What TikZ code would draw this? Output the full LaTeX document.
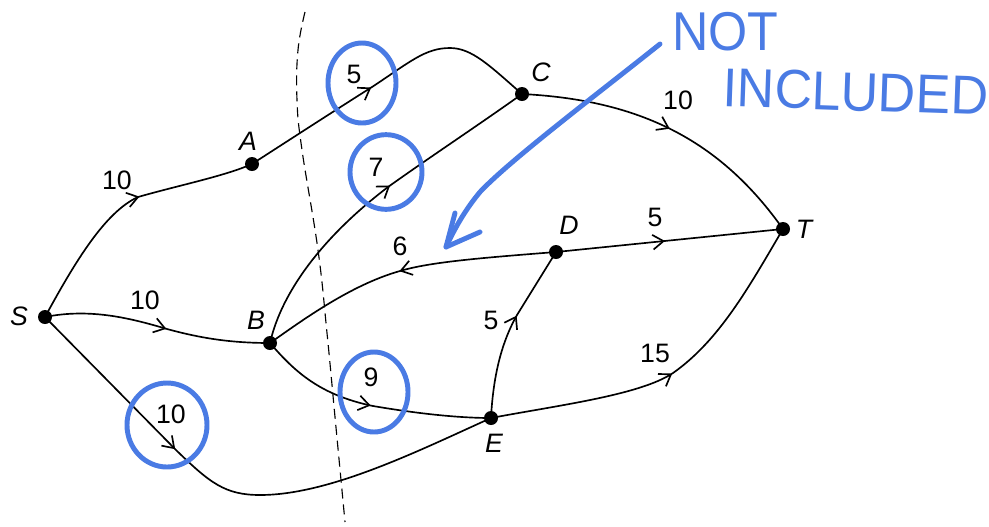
\documentclass[tikz,border=0pt]{standalone}
\usepackage{fontspec}
\usepackage{graphicx}
\setmainfont{Liberation Sans}
\usetikzlibrary{arrows.meta,decorations.markings}
\definecolor{pen}{RGB}{74,123,228}
\begin{document}
\begin{tikzpicture}[x=0.75pt,y=-0.75pt,
  edge/.style={line width=1.25pt},
  arr/.style={postaction={decorate},decoration={markings,mark=at position #1 with {\arrow{Straight Barb[length=8pt,width=11pt]}}}},
  dot/.style={circle,fill=black,inner sep=0pt,minimum size=10.5pt},
  vlabel/.style={font=\fontsize{20}{23}\selectfont\itshape,inner sep=0pt},
  wlabel/.style={font=\fontsize{20}{23}\selectfont,inner sep=0pt},
  ring/.style={draw=pen,line width=3.7pt},
  hand/.style={text=pen,font=\fontsize{41}{45}\selectfont,anchor=base west,inner sep=0pt},
  cut/.style={line width=0.85pt,dash pattern=on 7.5pt off 4.5pt}
]
\useasboundingbox (0,0) rectangle (989,526);
\fill[white] (0,0) rectangle (989,526);

% cut line
\draw[cut] plot[smooth,tension=0.7] coordinates {(305,12) (298,50) (297,100) (302,150) (318,250) (327,333) (335,417) (345,522)};

% vertices
\node[dot] (S) at (45,317) {};
\node[dot] (A) at (252,164) {};
\node[dot] (B) at (270,343) {};
\node[dot] (C) at (522,94) {};
\node[dot] (D) at (556,252) {};
\node[dot] (T) at (783,229) {};
\node[dot] (E) at (491,418) {};

\node[vlabel] (lS) at (19,316) {S};
\node[vlabel] (lA) at (248,141) {A};
\node[vlabel] (lB) at (256,320) {B};
\node[vlabel] (lC) at (541,72) {C};
\node[vlabel] (lD) at (569,225) {D};
\node[vlabel] (lT) at (804,229) {T};
\node[vlabel] (lE) at (494,443) {E};

% edges
\draw[edge,arr=0.57] (S.center) .. controls (75,262) and (105,212) .. (138,197) .. controls (180,185) and (225,176) .. (A.center);
\draw[edge,arr=0.445] (A.center) .. controls (300,133) and (345,104) .. (372,87) .. controls (410,62) and (425,48) .. (450,48) .. controls (472,48) and (490,66) .. (C.center);
\draw[edge,arr=0.5] (C.center) .. controls (640,100) and (720,140) .. (T.center);
\draw[edge,arr=0.557] (B.center) .. controls (282,290) and (325,235) .. (388,187) .. controls (430,157) and (480,124) .. (C.center);
\draw[edge,arr=0.54] (S.center) .. controls (90,308) and (130,318) .. (167,329) .. controls (200,338) and (230,343) .. (B.center);
\draw[edge,arr=0.35] (S.center) -- (176,450) .. controls (210,483) and (225,495) .. (260,495) .. controls (330,495) and (420,450) .. (E.center);
\draw[edge,arr=0.5] (B.center) .. controls (295,372) and (320,395) .. (373,406) .. controls (420,414) and (460,418) .. (E.center);
\draw[edge,arr=0.515] (D.center) .. controls (480,258) and (430,262) .. (400,271) .. controls (350,285) and (300,322) .. (B.center);
\draw[edge,arr=0.48] (D.center) -- (T.center);
\draw[edge,arr=0.587] (E.center) .. controls (493,380) and (500,345) .. (517,315) -- (D.center);
\draw[edge,arr=0.505] (E.center) .. controls (560,405) and (640,395) .. (673,373) .. controls (720,340) and (750,285) .. (T.center);

% edge labels
\node[wlabel] (wSA) at (117,180) {10};
\node[wlabel] (wSB) at (145,300) {10};
\node[wlabel] (wSE) at (171,414) {10};
\node[wlabel] (wAC) at (354,74) {5};
\node[wlabel] (wBC) at (376,167) {7};
\node[wlabel] (wCT) at (678,100) {10};
\node[wlabel] (wDB) at (400,246) {6};
\node[wlabel] (wDT) at (655,217) {5};
\node[wlabel] (wED) at (491,320) {5};
\node[wlabel] (wBE) at (371,377) {9};
\node[wlabel] (wET) at (655,353) {15};

% blue annotations
\draw[ring] (362,83) ellipse [x radius=25.5pt, y radius=30pt];
\draw[ring] (386,172) ellipse [x radius=27pt, y radius=28pt];
\draw[ring] (374,392) ellipse [x radius=25.5pt, y radius=30pt];
\draw[ring] (167,425) ellipse [x radius=30pt, y radius=31.5pt];

\node[hand] (n1) at (672,50) {\scalebox{0.92}[1]{NOT}};
\node[hand,rotate=-2] (n2) at (722,106) {\scalebox{0.95}[1]{INCLUDED}};

\coordinate (p0) at (660,44);
\coordinate (p1) at (446,247);
\coordinate (b1) at (455,213);
\coordinate (b2) at (480,232);
\draw[draw=pen,line width=3.7pt,line cap=round,line join=round] (p0) .. controls (600,92) and (510,160) .. (480,192) .. controls (465,210) and (455,228) .. (p1);
\draw[draw=pen,line width=3.7pt,line cap=round,line join=round] (b1) -- (p1) -- (b2);
\end{tikzpicture}
\end{document}
